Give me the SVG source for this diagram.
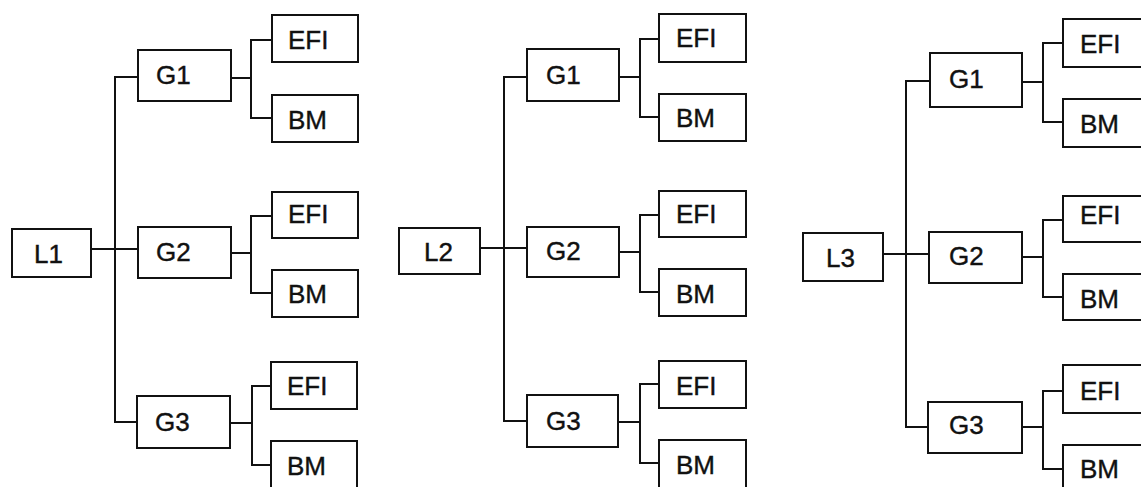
<svg xmlns="http://www.w3.org/2000/svg" width="1141" height="487" viewBox="0 0 1141 487">
<style>
.n rect{fill:#fff;stroke:#111;stroke-width:2}
text{font-family:"Liberation Sans",Arial,sans-serif;font-size:26px;fill:#111;stroke:#111;stroke-width:0.4}
.c path{fill:none;stroke:#111;stroke-width:2}
</style>
<rect x="0" y="0" width="1141" height="487" fill="#fff"/>
<g class="c" id="connectors">
<path d="M91 249H138M138 77H115V422H137"/>
<path d="M231 78H251M272 40H251V118H272"/>
<path d="M231 253H251M272 216H251V293H272"/>
<path d="M230 423H252M271 386H252V465H271"/>
<path d="M480 248H527M527 77H504V421H527"/>
<path d="M619 77H640M659 39H640V117H659"/>
<path d="M619 252H640M659 215H640V292H659"/>
<path d="M618 422H640M659 384H640V463H659"/>
<path d="M883 254H929M930 81H906V427H928"/>
<path d="M1022 82H1043M1063 43H1043V122H1063"/>
<path d="M1022 257H1043M1063 220H1043V297H1063"/>
<path d="M1022 427H1043M1063 391H1043V469H1063"/>
</g>
<g class="n" id="t1-L1"><rect x="12" y="229" width="79" height="48"/><text x="34" y="263">L1</text></g>
<g class="n" id="t1-G1"><rect x="138" y="50" width="93" height="51"/><text x="156" y="84">G1</text></g>
<g class="n" id="t1-G2"><rect x="138" y="227" width="93" height="51"/><text x="156" y="261">G2</text></g>
<g class="n" id="t1-G3"><rect x="137" y="396" width="93" height="52"/><text x="155" y="431">G3</text></g>
<g class="n" id="t1-G1-EFI"><rect x="272" y="15" width="86" height="47"/><text x="288" y="49">EFI</text></g>
<g class="n" id="t1-G1-BM"><rect x="272" y="95" width="86" height="47"/><text x="288" y="129">BM</text></g>
<g class="n" id="t1-G2-EFI"><rect x="272" y="192" width="86" height="46"/><text x="288" y="223">EFI</text></g>
<g class="n" id="t1-G2-BM"><rect x="272" y="270" width="86" height="47"/><text x="288" y="303">BM</text></g>
<g class="n" id="t1-G3-EFI"><rect x="271" y="362" width="86" height="47"/><text x="287" y="395">EFI</text></g>
<g class="n" id="t1-G3-BM"><rect x="271" y="441" width="86" height="60"/><text x="287" y="475">BM</text></g>
<g class="n" id="t2-L2"><rect x="399" y="228" width="81" height="46"/><text x="424" y="261">L2</text></g>
<g class="n" id="t2-G1"><rect x="527" y="49" width="92" height="52"/><text x="546" y="84">G1</text></g>
<g class="n" id="t2-G2"><rect x="527" y="227" width="92" height="50"/><text x="546" y="260">G2</text></g>
<g class="n" id="t2-G3"><rect x="527" y="395" width="91" height="52"/><text x="546" y="430">G3</text></g>
<g class="n" id="t2-G1-EFI"><rect x="659" y="14" width="87" height="48"/><text x="676" y="47">EFI</text></g>
<g class="n" id="t2-G1-BM"><rect x="659" y="94" width="87" height="47"/><text x="676" y="127">BM</text></g>
<g class="n" id="t2-G2-EFI"><rect x="659" y="191" width="87" height="46"/><text x="676" y="223">EFI</text></g>
<g class="n" id="t2-G2-BM"><rect x="659" y="269" width="87" height="47"/><text x="676" y="303">BM</text></g>
<g class="n" id="t2-G3-EFI"><rect x="659" y="361" width="87" height="47"/><text x="676" y="395">EFI</text></g>
<g class="n" id="t2-G3-BM"><rect x="659" y="440" width="87" height="60"/><text x="676" y="474">BM</text></g>
<g class="n" id="t3-L3"><rect x="803" y="233" width="80" height="48"/><text x="826" y="267">L3</text></g>
<g class="n" id="t3-G1"><rect x="930" y="53" width="92" height="54"/><text x="949" y="88">G1</text></g>
<g class="n" id="t3-G2"><rect x="929" y="232" width="93" height="51"/><text x="949" y="265">G2</text></g>
<g class="n" id="t3-G3"><rect x="928" y="402" width="94" height="51"/><text x="949" y="434">G3</text></g>
<g class="n" id="t3-G1-EFI"><rect x="1063" y="19" width="90" height="48"/><text x="1080" y="53">EFI</text></g>
<g class="n" id="t3-G1-BM"><rect x="1063" y="99" width="90" height="48"/><text x="1080" y="133">BM</text></g>
<g class="n" id="t3-G2-EFI"><rect x="1063" y="196" width="90" height="46"/><text x="1080" y="224">EFI</text></g>
<g class="n" id="t3-G2-BM"><rect x="1063" y="274" width="90" height="46"/><text x="1080" y="308">BM</text></g>
<g class="n" id="t3-G3-EFI"><rect x="1063" y="365" width="90" height="48"/><text x="1080" y="400">EFI</text></g>
<g class="n" id="t3-G3-BM"><rect x="1063" y="445" width="90" height="60"/><text x="1080" y="478">BM</text></g>
</svg>
